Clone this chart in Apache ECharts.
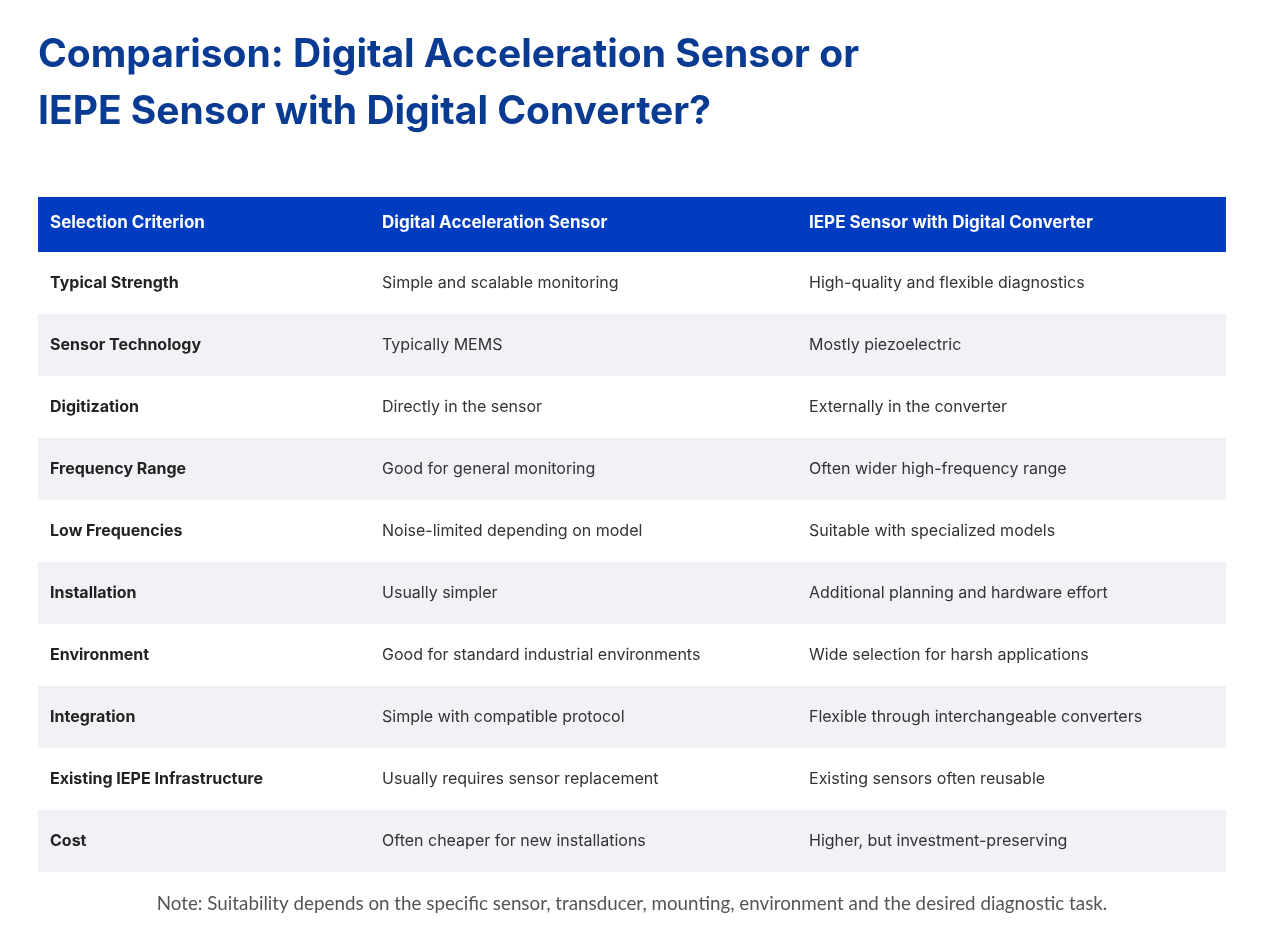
<!DOCTYPE html>
<html>
<head>
<meta charset="utf-8">
<script src="https://cdn.jsdelivr.net/npm/echarts@6/dist/echarts.min.js"></script>
<style>
  html, body { margin: 0; padding: 0; background: #fff; }
  #chart { width: 1264px; height: 937px; }
</style>
</head>
<body>
<div id="chart"></div>
<script>
// 表头
const headers = ['Selection Criterion', 'Digital Acceleration Sensor', 'IEPE Sensor with Digital Converter']

// 行数据
const criteria = [
  'Typical Strength', 'Sensor Technology', 'Digitization', 'Frequency Range', 'Low Frequencies',
  'Installation', 'Environment', 'Integration', 'Existing IEPE Infrastructure', 'Cost'
]
const digitalSensor = [
  'Simple and scalable monitoring', 'Typically MEMS', 'Directly in the sensor',
  'Good for general monitoring', 'Noise-limited depending on model', 'Usually simpler',
  'Good for standard industrial environments', 'Simple with compatible protocol',
  'Usually requires sensor replacement', 'Often cheaper for new installations'
]
const iepeSensor = [
  'High-quality and flexible diagnostics', 'Mostly piezoelectric', 'Externally in the converter',
  'Often wider high-frequency range', 'Suitable with specialized models',
  'Additional planning and hardware effort', 'Wide selection for harsh applications',
  'Flexible through interchangeable converters', 'Existing sensors often reusable',
  'Higher, but investment-preserving'
]

const titleText = 'Comparison: Digital Acceleration Sensor or\nIEPE Sensor with Digital Converter?'
const noteText = 'Note: Suitability depends on the specific sensor, transducer, mounting, environment and the desired diagnostic task.'

// 列起点（占表格宽度比例）
const colPos = [0.0101, 0.2896, 0.649]

const chart = echarts.init(document.getElementById('chart'))

// 表体
const renderRow = (params, api) => {
  const idx = api.value(0)
  const cs = params.coordSys
  const h = api.size([0, 1])[1]
  const cy = api.coord([0, idx])[1]
  const cells = [criteria[idx], digitalSensor[idx], iepeSensor[idx]]
  const children = [{
    type: 'rect',
    shape: { x: cs.x, y: cy - h / 2, width: cs.width, height: h },
    style: { fill: idx % 2 === 1 ? '#f1f2f6' : '#ffffff' }
  }]
  cells.forEach((t, c) => {
    children.push({
      type: 'text',
      x: api.coord([colPos[c], idx])[0],
      y: cy,
      style: {
        text: t,
        fontFamily: 'Inter',
        fontSize: 16,
        fontWeight: c === 0 ? 'bold' : 'normal',
        fill: c === 0 ? '#222222' : '#333333',
        verticalAlign: 'middle',
        align: 'left'
      }
    })
  })
  return { type: 'group', children }
}

// 表头
const renderHeader = (params, api) => {
  const cs = params.coordSys
  const cy = api.coord([0, 0])[1]
  const children = [{
    type: 'rect',
    shape: { x: cs.x, y: cs.y, width: cs.width, height: cs.height },
    style: { fill: '#003cc0' }
  }]
  headers.forEach((t, c) => {
    children.push({
      type: 'text',
      x: api.coord([colPos[c], 0])[0],
      y: cy - 2,
      style: {
        text: t, fontFamily: 'Inter', fontSize: 17, fontWeight: 'bold',
        fill: '#ffffff', verticalAlign: 'middle', align: 'left'
      }
    })
  })
  return { type: 'group', children }
}

const hiddenAxis = { show: false }

chart.setOption({
  backgroundColor: '#ffffff',
  animation: false,
  title: [{
    text: titleText,
    left: 38,
    top: 27,
    padding: 0,
    textStyle: {
      fontFamily: 'Inter', fontSize: 39, fontWeight: 'bold',
      color: '#0a3b93', lineHeight: 57
    }
  }, {
    text: noteText,
    left: 'center',
    top: 894,
    padding: 0,
    textStyle: { fontFamily: 'Lato', fontSize: 18.8, fontWeight: 'normal', color: '#555555' }
  }],
  grid: [
    { left: 38, right: 38, top: 197, height: 55 },
    { left: 38, right: 38, top: 252, height: 620 }
  ],
  xAxis: [
    { type: 'value', gridIndex: 0, min: 0, max: 1, ...hiddenAxis },
    { type: 'value', gridIndex: 1, min: 0, max: 1, ...hiddenAxis }
  ],
  yAxis: [
    { type: 'category', gridIndex: 0, data: ['header'], ...hiddenAxis },
    { type: 'category', gridIndex: 1, data: criteria, inverse: true, ...hiddenAxis }
  ],
  series: [{
    type: 'custom',
    xAxisIndex: 0, yAxisIndex: 0,
    renderItem: renderHeader,
    data: [[0]],
    encode: { y: 0 }
  }, {
    type: 'custom',
    xAxisIndex: 1, yAxisIndex: 1,
    renderItem: renderRow,
    data: criteria.map((_, i) => [i]),
    encode: { y: 0 }
  }]
})
</script>
</body>
</html>
